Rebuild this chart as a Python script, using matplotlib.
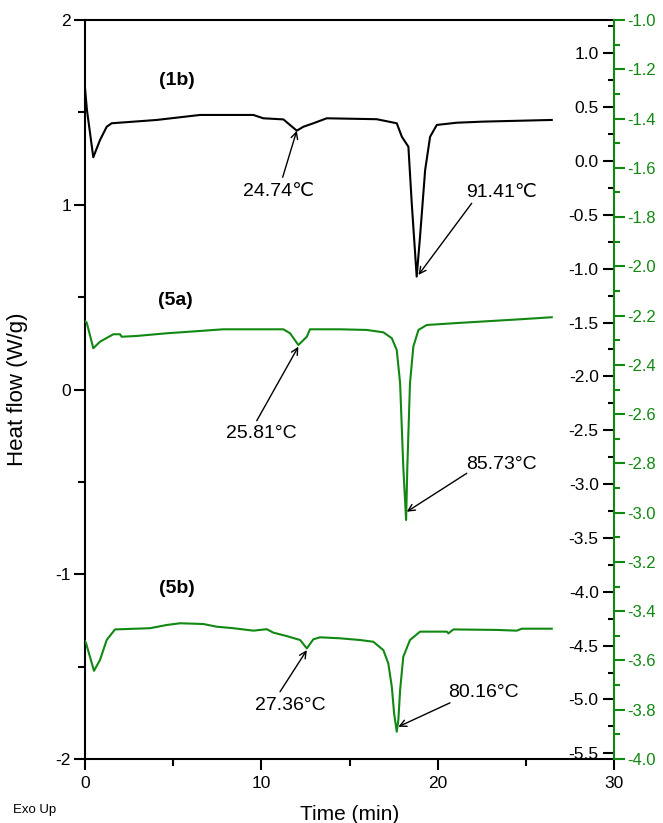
import matplotlib
matplotlib.use("Agg")
import matplotlib.pyplot as plt
from matplotlib.ticker import MultipleLocator, FixedLocator

plt.rcParams['font.family'] = ['Liberation Sans', 'DejaVu Sans']

# ---- data (time in min) ----
t_1b = [0.00, 0.11, 0.47, 0.85, 1.23, 1.51, 4.07, 6.52, 9.55, 10.11, 11.25, 12.01, 12.38,
        12.95, 13.71, 16.54, 17.68, 17.97, 18.34, 18.53, 18.81, 19.00, 19.29, 19.57, 19.95,
        21.08, 22.59, 26.47]
hf_1b = [1.632, 1.513, 1.257, 1.350, 1.422, 1.441, 1.459, 1.486, 1.486, 1.468, 1.462, 1.401, 1.422,
         1.441, 1.468, 1.463, 1.441, 1.368, 1.314, 1.008, 0.611, 0.827, 1.188, 1.368, 1.432,
         1.444, 1.450, 1.459]

t_5a = [0.00, 0.10, 0.47, 0.85, 1.61, 1.99, 2.08, 2.93, 4.63, 5.96, 7.84, 11.25, 11.63, 12.10,
        12.58, 12.76, 14.46, 15.98, 16.92, 17.40, 17.68, 17.87, 18.05, 18.21, 18.28, 18.43,
        18.62, 18.91, 19.38, 20.89, 22.41, 24.67, 26.47]
hf_5a = [-1.486, -1.502, -1.739, -1.678, -1.609, -1.609, -1.632, -1.625, -1.600, -1.585, -1.563,
         -1.563, -1.600, -1.709, -1.632, -1.563, -1.563, -1.569, -1.591, -1.646, -1.755, -2.064,
         -2.839, -3.334, -2.839, -2.064, -1.724, -1.569, -1.523, -1.507, -1.492, -1.470, -1.451]

t_5b = [0.00, 0.06, 0.51, 0.85, 1.23, 1.70, 3.69, 4.63, 5.39, 6.71, 7.47, 8.41, 9.55, 10.31,
        10.68, 11.44, 12.20, 12.58, 12.95, 13.33, 14.46, 15.60, 16.35, 16.92, 17.20, 17.40,
        17.53, 17.68, 17.77, 17.87, 18.05, 18.43, 19.00, 20.52, 20.61, 20.89, 23.35, 24.49,
        24.77, 26.47]
hf_5b = [-3.521, -3.530, -3.642, -3.598, -3.517, -3.474, -3.469, -3.456, -3.449, -3.452, -3.463,
         -3.469, -3.479, -3.473, -3.487, -3.501, -3.517, -3.551, -3.514, -3.506, -3.510, -3.517,
         -3.524, -3.558, -3.612, -3.707, -3.815, -3.889, -3.842, -3.720, -3.585, -3.517, -3.483,
         -3.483, -3.490, -3.474, -3.476, -3.479, -3.471, -3.471]

left_ticks = [-2, -1, 0, 1, 2]
black_ticks = [1.0, 0.5, 0.0, -0.5, -1.0, -1.5, -2.0, -2.5, -3.0, -3.5, -4.0, -4.5, -5.0, -5.5]
green_ticks = [-1.0, -1.2, -1.4, -1.6, -1.8, -2.0, -2.2, -2.4, -2.6, -2.8, -3.0, -3.2, -3.4,
               -3.6, -3.8, -4.0]
x_ticks = [0, 10, 20, 30]

GREEN = '#118811'
LW = 1.5

fig = plt.figure(figsize=(6.63, 8.23), dpi=100)
ax = fig.add_axes([0.1282, 0.07776, 0.7979, 0.89794])
ax_b = ax.twinx()
ax_g = ax.twinx()

ax.set_xlim(0, 30)
ax.set_ylim(-2, 2)
ax_b.set_ylim(-5.553, 1.309)
ax_g.set_ylim(-4.0, -1.0)

# curves
ax.plot(t_1b, hf_1b, color='black', lw=LW)
ax_b.plot(t_5a, hf_5a, color=GREEN, lw=LW)
ax_g.plot(t_5b, hf_5b, color=GREEN, lw=LW)

# main axis styling
ax.set_xticks(x_ticks)
ax.xaxis.set_minor_locator(MultipleLocator(5))
ax.set_yticks(left_ticks)
ax.set_yticklabels([str(v) for v in left_ticks])
ax.yaxis.set_minor_locator(MultipleLocator(0.5))
ax.tick_params(axis='both', which='major', direction='out', length=8, width=1.5,
               labelsize=12.5, colors='black')
ax.tick_params(axis='x', which='major', pad=4)
ax.tick_params(axis='y', which='major', pad=2)
ax.tick_params(axis='both', which='minor', direction='out', length=5, width=1.5)
for s in ['left', 'bottom', 'top']:
    ax.spines[s].set_linewidth(1.5)
ax.spines['right'].set_visible(False)

ax.set_xlabel('Time (min)', fontsize=15)
ax.xaxis.set_label_coords(0.5, -0.062)
ax.set_ylabel('Heat flow (W/g)', fontsize=16)
ax.yaxis.set_label_coords(-0.108, 0.5)

# black right axis: ticks and labels pointing into the plot from the right spine
for s in ['top', 'bottom', 'right']:
    ax_b.spines[s].set_visible(False)
ax_b.spines['left'].set_position(('axes', 1.0))
ax_b.spines['left'].set_visible(False)
ax_b.yaxis.set_ticks_position('left')
ax_b.yaxis.set_label_position('left')
ax_b.yaxis.set_major_locator(FixedLocator(black_ticks))
ax_b.set_yticklabels([f'{v:.1f}' for v in black_ticks])
ax_b.yaxis.set_minor_locator(MultipleLocator(0.25))
ax_b.tick_params(axis='y', which='major', direction='out', length=8, width=1.5,
                 labelsize=12.5, pad=3, colors='black')
ax_b.tick_params(axis='y', which='minor', direction='out', length=4.5, width=1.5)

# green right axis
for s in ['top', 'bottom', 'left']:
    ax_g.spines[s].set_visible(False)
ax_g.spines['right'].set_color(GREEN)
ax_g.spines['right'].set_linewidth(1.5)
ax_g.yaxis.set_major_locator(FixedLocator(green_ticks))
ax_g.set_yticklabels([f'{v:.1f}' for v in green_ticks])
ax_g.yaxis.set_minor_locator(MultipleLocator(0.1))
ax_g.tick_params(axis='y', which='major', direction='out', length=8, width=1.5,
                 labelsize=12, pad=1.5, colors=GREEN)
ax_g.tick_params(axis='y', which='minor', direction='out', length=4.5, width=1.5,
                 colors=GREEN)

# sample labels
ax.text(5.20, 1.675, '(1b)', fontsize=14, fontweight='bold', ha='center', va='center')
ax_b.text(5.13, -1.291, '(5a)', fontsize=14, fontweight='bold', ha='center', va='center')
ax_g.text(5.20, -3.307, '(5b)', fontsize=14, fontweight='bold', ha='center', va='center')

arrow = dict(arrowstyle='->', color='black', lw=1.0, mutation_scale=12, shrinkA=0, shrinkB=0)

def annot(axis, label, text_xy, tail_xy, head_xy):
    axis.annotate('', xy=head_xy, xytext=tail_xy, arrowprops=arrow)
    axis.text(text_xy[0], text_xy[1], label, fontsize=14, ha='center', va='center')

annot(ax, '24.74\u2103', (10.96, 1.071), (11.21, 1.149), (12.01, 1.401))
annot(ax, '91.41\u2103', (23.64, 1.065), (21.93, 1.008), (18.91, 0.620))
annot(ax_b, '25.81°C', (10.02, -2.529), (9.74, -2.412), (12.10, -1.724))
annot(ax_b, '85.73°C', (23.64, -2.814), (21.65, -2.900), (18.25, -3.257))
annot(ax_g, '27.36°C', (11.63, -3.781), (11.06, -3.727), (12.58, -3.558))
annot(ax_g, '80.16°C', (22.59, -3.731), (20.70, -3.772), (17.77, -3.869))

fig.text(13 / 663, 1 - 810 / 823, 'Exo Up', fontsize=9.5, ha='left', va='center')

fig.savefig('out.png', dpi=100)
